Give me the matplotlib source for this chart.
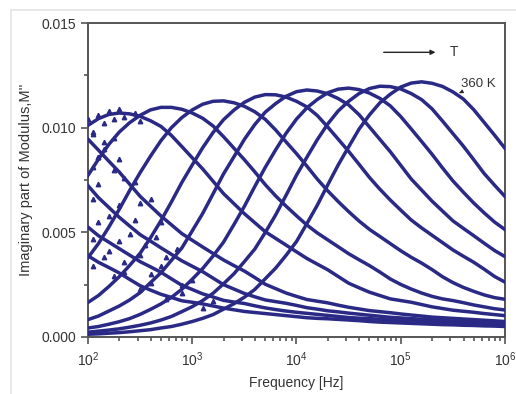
import numpy as np
import matplotlib
matplotlib.use("Agg")
import matplotlib.pyplot as plt
from matplotlib.ticker import MultipleLocator, LogLocator, NullFormatter
from matplotlib.lines import Line2D

# log10 of frequency where the curves were read
log_freq = [2.0, 2.1, 2.2, 2.3, 2.4, 2.5, 2.6, 2.7, 2.8, 2.9,
            3.0, 3.1, 3.2, 3.3, 3.4, 3.5, 3.6, 3.7, 3.8, 3.9,
            4.0, 4.1, 4.2, 4.3, 4.4, 4.5, 4.6, 4.7, 4.8, 4.9,
            5.0, 5.1, 5.2, 5.3, 5.4, 5.5, 5.6, 5.7, 5.8, 5.9, 6.0]

# M'' curves, lowest temperature first, 360 K last
m_L4 = [.00388, .00357, .00332, .00306, .00275, .00245, .00224, .00204, .00189, .00173,
        .00166, .00158, .00148, .00138, .00130, .00122, .00117, .00112, .00107, .00102,
        .00097, .00092, .00089, .00087, .00084, .00081, .00078, .00074, .00071, .00069,
        .00067, .00065, .00063, .00061, .00059, .00058, .00056, .00055, .00053, .00052, .00050]
m_L3 = [.00525, .00484, .00453, .00422, .00391, .00360, .00335, .00309, .00278, .00247,
        .00227, .00206, .00191, .00175, .00167, .00160, .00149, .00139, .00131, .00124,
        .00118, .00113, .00108, .00103, .00098, .00093, .00090, .00088, .00084, .00081,
        .00078, .00075, .00072, .00070, .00068, .00066, .00064, .00062, .00060, .00058, .00057]
m_L2 = [.00723, .00666, .00619, .00572, .00530, .00489, .00458, .00426, .00395, .00364,
        .00338, .00312, .00281, .00250, .00229, .00208, .00192, .00177, .00169, .00161,
        .00151, .00140, .00133, .00125, .00120, .00114, .00109, .00104, .00099, .00094,
        .00091, .00088, .00085, .00082, .00079, .00076, .00073, .00071, .00069, .00067, .00064]
m_L1 = [.00945, .00893, .00840, .00788, .00730, .00672, .00625, .00578, .00536, .00494,
        .00462, .00430, .00399, .00368, .00341, .00315, .00284, .00252, .00231, .00210,
        .00194, .00179, .00171, .00163, .00152, .00142, .00134, .00126, .00121, .00116,
        .00110, .00105, .00100, .00095, .00092, .00089, .00086, .00083, .00080, .00077, .00074]
m_A = [.01011, .01043, .01063, .01070, .01066, .01054, .01033, .01006, .00963, .00910,
       .00856, .00803, .00744, .00685, .00637, .00589, .00546, .00503, .00471, .00439,
       .00407, .00375, .00348, .00321, .00289, .00257, .00235, .00214, .00198, .00182,
       .00174, .00166, .00155, .00144, .00136, .00128, .00123, .00118, .00112, .00107, .00102]
m_B = [.00772, .00849, .00920, .00979, .01024, .01059, .01085, .01097, .01097, .01088,
       .01070, .01045, .01008, .00957, .00902, .00847, .00789, .00728, .00674, .00625,
       .00579, .00535, .00497, .00464, .00431, .00398, .00369, .00341, .00310, .00277,
       .00251, .00229, .00210, .00194, .00182, .00174, .00164, .00153, .00144, .00135, .00129]
m_C = [.00379, .00446, .00525, .00610, .00700, .00785, .00864, .00938, .01000, .01048,
       .01085, .01112, .01126, .01128, .01119, .01102, .01076, .01040, .00989, .00932,
       .00876, .00816, .00754, .00698, .00647, .00599, .00554, .00514, .00480, .00446,
       .00412, .00381, .00353, .00322, .00288, .00260, .00237, .00218, .00201, .00188, .00180]
m_D = [.00165, .00198, .00241, .00288, .00342, .00400, .00474, .00556, .00645, .00738,
       .00822, .00904, .00977, .01038, .01084, .01121, .01146, .01158, .01157, .01146,
       .01126, .01099, .01058, .01003, .00945, .00887, .00825, .00762, .00706, .00654,
       .00606, .00559, .00521, .00486, .00451, .00416, .00386, .00357, .00324, .00289, .00262]
m_E = [.00083, .00100, .00124, .00148, .00177, .00212, .00260, .00307, .00366, .00425,
       .00507, .00590, .00684, .00779, .00861, .00944, .01015, .01074, .01115, .01150,
       .01172, .01180, .01175, .01162, .01139, .01109, .01062, .01003, .00944, .00885,
       .00820, .00755, .00702, .00649, .00602, .00555, .00519, .00484, .00448, .00413, .00384]
m_F = [.00043, .00050, .00061, .00073, .00088, .00108, .00132, .00158, .00189, .00228,
       .00276, .00327, .00387, .00453, .00537, .00624, .00719, .00810, .00894, .00973,
       .01041, .01095, .01135, .01167, .01184, .01189, .01182, .01165, .01140, .01104,
       .01053, .00994, .00934, .00873, .00808, .00746, .00692, .00640, .00593, .00549, .00513]
m_G = [.00023, .00028, .00033, .00039, .00047, .00056, .00067, .00081, .00098, .00121,
       .00145, .00174, .00209, .00254, .00302, .00360, .00420, .00499, .00583, .00677,
       .00773, .00859, .00943, .01018, .01080, .01126, .01163, .01187, .01198, .01196,
       .01185, .01163, .01134, .01090, .01032, .00972, .00912, .00847, .00781, .00725, .00671]
m_H = [.00013, .00015, .00018, .00021, .00025, .00030, .00035, .00043, .00050, .00061,
       .00074, .00089, .00107, .00133, .00159, .00190, .00227, .00278, .00329, .00390,
       .00456, .00542, .00630, .00727, .00822, .00908, .00993, .01061, .01119, .01160,
       .01194, .01213, .01219, .01212, .01197, .01171, .01137, .01086, .01025, .00964, .00901]

curves = [m_L4, m_L3, m_L2, m_L1, m_A, m_B, m_C, m_D, m_E, m_F, m_G, m_H]

# noisy low-frequency points of the cold curves
noise_logf = [2.0, 2.05, 2.1, 2.15, 2.2, 2.25, 2.3, 2.35, 2.45, 2.5,
              2.05, 2.1, 2.15, 2.25, 2.3, 2.35, 2.45, 2.5, 2.6, 2.7,
              2.05, 2.1, 2.2, 2.3, 2.4, 2.45, 2.55, 2.65, 2.75, 2.85,
              2.05, 2.1, 2.2, 2.3, 2.35, 2.5, 2.6, 2.7, 2.9, 3.0,
              2.05, 2.15, 2.25, 2.35, 2.5, 2.6, 2.75, 2.9, 3.1, 3.2,
              2.05, 2.1, 2.15, 2.25]
noise_m = [0.0104, 0.0098, 0.0106, 0.0102, 0.0108, 0.0104, 0.0109, 0.0105, 0.0107, 0.0103,
           0.0097, 0.0086, 0.0093, 0.0080, 0.0085, 0.0076, 0.0074, 0.0064, 0.0066, 0.0055,
           0.0066, 0.0073, 0.0058, 0.0063, 0.0049, 0.0056, 0.0044, 0.0048, 0.0038, 0.0042,
           0.0047, 0.0055, 0.0041, 0.0046, 0.0036, 0.0039, 0.0030, 0.0034, 0.0025, 0.0027,
           0.0034, 0.0038, 0.0029, 0.0031, 0.0023, 0.0026, 0.0018, 0.0021, 0.0014, 0.0017,
           0.0081, 0.0086, 0.0090, 0.0095]

color = "#2a2a86"
plt.rcParams['font.family'] = ['Liberation Sans', 'DejaVu Sans']

fig = plt.figure(figsize=(5.16, 3.94), dpi=100)
ax = fig.add_axes([0.1705, 0.1447, 0.8082, 0.7969])

freq = 10 ** np.array(log_freq)
for m in curves:
    ax.plot(freq, m, color=color, lw=2.5, solid_joinstyle='round', zorder=3)
ax.plot(10 ** np.array(noise_logf), noise_m, ls='none', marker='^', ms=3.2,
        color=color, zorder=3)

ax.set_xscale('log')
ax.set_xlim(1e2, 1e6)
ax.set_ylim(0, 0.015)
ax.yaxis.set_major_locator(MultipleLocator(0.005))
ax.yaxis.set_minor_locator(MultipleLocator(0.0025))
ax.yaxis.set_major_formatter(plt.FuncFormatter(lambda v, p: f"{v:.3f}"))
ax.xaxis.set_major_locator(LogLocator(base=10, numticks=10))
ax.xaxis.set_minor_locator(LogLocator(base=10, subs=np.arange(2, 10), numticks=20))
ax.xaxis.set_minor_formatter(NullFormatter())

for s in ax.spines.values():
    s.set_color('#555555')
    s.set_linewidth(1.4)
ax.tick_params(which='both', direction='out', color='#555555', width=1.2,
               labelsize=10, labelcolor='#333333')
ax.tick_params(which='major', length=5)
ax.tick_params(which='minor', length=3)
ax.tick_params(axis='x', pad=5)

ax.set_xlabel("Frequency [Hz]", fontsize=10, color='#333333', labelpad=5)
ax.set_ylabel("Imaginary part of Modulus,M''", fontsize=10.5, color='#333333', labelpad=6)

ax.annotate("", xy=(10 ** 5.36, 0.0136), xytext=(10 ** 4.81, 0.0136),
            arrowprops=dict(arrowstyle='-|>', color='#222222', lw=1.0, mutation_scale=7))
ax.text(10 ** 5.47, 0.0136, "T", fontsize=10, color='#333333', va='center', ha='left')
ax.annotate("360 K", xy=(10 ** 5.56, 0.01165), xytext=(10 ** 5.58, 0.0121),
            fontsize=9.5, color='#333333', va='center', ha='left',
            arrowprops=dict(arrowstyle='-|>', color='#222222', lw=0.8, mutation_scale=5,
                            shrinkA=0, shrinkB=0))

# faint frame of the original figure
fig.add_artist(Line2D([11 / 516, 1], [1 - 10 / 394, 1 - 10 / 394], color='#e4e4e4', lw=1.2))
fig.add_artist(Line2D([11 / 516, 11 / 516], [0, 1 - 10 / 394], color='#e4e4e4', lw=1.2))

plt.savefig("out.png", dpi=100)
